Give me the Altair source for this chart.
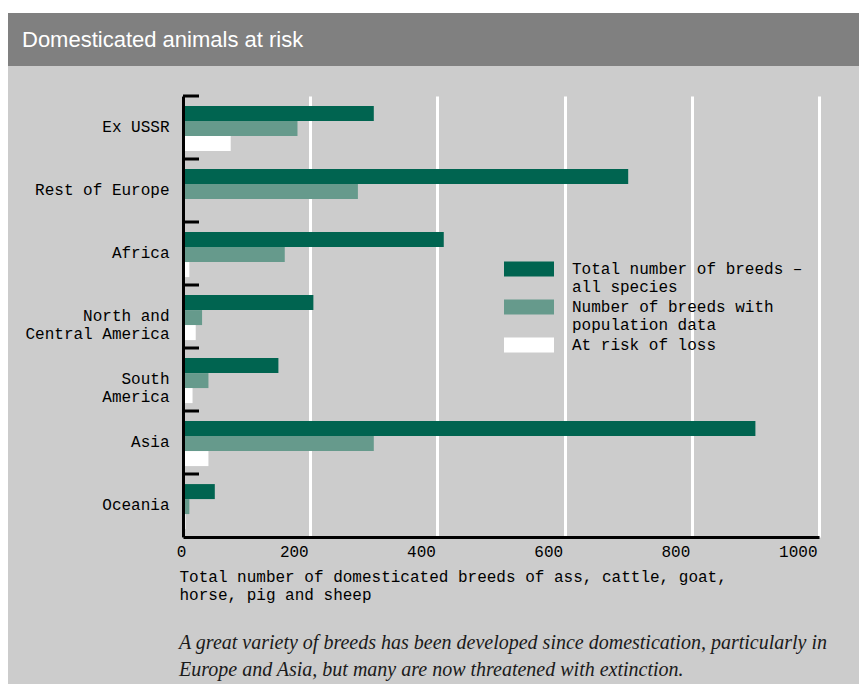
import json
import altair as alt
import pandas as pd

# ---------------- data ----------------
regions = ["Ex USSR", "Rest of Europe", "Africa", "North and Central America",
           "South America", "Asia", "Oceania"]
region_lines = {"North and Central America": ["North and", "Central America"],
                "South America": ["South", "America"]}
total_breeds = [300, 700, 410, 205, 150, 900, 50]
with_population_data = [180, 275, 160, 30, 40, 300, 10]
at_risk = [75, 0, 10, 20, 15, 40, 4]

series = ["Total number of breeds – all species",
          "Number of breeds with population data",
          "At risk of loss"]
series_lines = {"Total number of breeds – all species": ["Total number of breeds –", "all species"],
                "Number of breeds with population data": ["Number of breeds with", "population data"]}
colors = ["#006450", "#669a8c", "#ffffff"]
x_ticks = [0, 200, 400, 600, 800, 1000]

header_text = "Domesticated animals at risk"
x_title = ["Total number of domesticated breeds of ass, cattle, goat,",
           "horse, pig and sheep"]
caption = ["A great variety of breeds has been developed since domestication, particularly in",
           "Europe and Asia, but many are now threatened with extinction."]

# ---------------- tables ----------------
rows = []
for i, r in enumerate(regions):
    for s, vals in zip(series, [total_breeds, with_population_data, at_risk]):
        rows.append({"region": r, "series": s, "value": vals[i]})
df = pd.DataFrame(rows)
df_regions = pd.DataFrame({"region": regions})
df_header = pd.DataFrame({"t": [header_text]})
df_caption = pd.DataFrame({"t": ["\n".join(caption)]})


def label_expr(mapping):
    e = ""
    for k, lines in mapping.items():
        e += f"datum.label === {json.dumps(k)} ? {json.dumps(lines)} : "
    return e + "datum.label"


MONO = "Liberation Mono"
W, H = 636, 441

y_enc = alt.Y("region:N", sort=regions, title=None,
              scale=alt.Scale(paddingInner=0, paddingOuter=0),
              axis=alt.Axis(domainColor="black", domainWidth=3, ticks=False, tickSize=0,
                            labelPadding=14, labelFont=MONO, labelFontSize=16,
                            labelColor="black", labelLineHeight=18, labelBaseline="middle",
                            labelOffset=-1,
                            labelExpr=label_expr(region_lines), zindex=1, grid=False))

bars = alt.Chart(df).mark_bar().encode(
    x=alt.X("value:Q", scale=alt.Scale(domain=[0, 1000], nice=False),
            axis=alt.Axis(values=x_ticks, format="d", grid=True, gridColor="white", gridWidth=3,
                          gridOpacity=1, domainColor="black", domainWidth=3,
                          ticks=False, tickSize=0, labelPadding=6,
                          labelFont=MONO, labelFontSize=16, labelColor="black",
                          labelAlign={"condition": {"test": "datum.value === 0", "value": "center"},
                                      "value": "right"},
                          labelOffset=-2,
                          title=x_title, titleFont=MONO, titleFontSize=16,
                          titleFontWeight="normal", titleColor="black",
                          titleAnchor="start", titleAlign="left", titleBaseline="top",
                          titleX=-4, titleY=31, titleLineHeight=18)),
    y=y_enc,
    yOffset=alt.YOffset("series:N", sort=series,
                        scale=alt.Scale(paddingInner=0, paddingOuter=0.6, align=0.56)),
    color=alt.Color("series:N", sort=series,
                    scale=alt.Scale(domain=series, range=colors),
                    legend=alt.Legend(title=None, orient="none", legendX=336, legendY=163,
                                      symbolType="M-2.5,-0.75H2.5V0.75H-2.5Z", symbolSize=400,
                                      symbolStrokeWidth=0, symbolOpacity=1,
                                      labelFont=MONO, labelFontSize=16, labelColor="black",
                                      labelOffset=33, labelBaseline="middle",
                                      labelExpr=label_expr(series_lines),
                                      labelLimit=400, rowPadding=2, padding=0)),
)

ticks = alt.Chart(df_regions).mark_rule(color="black", strokeWidth=3).encode(
    y=alt.Y("region:N", sort=regions, bandPosition=0),
    x=alt.value(0), x2=alt.value(16),
)

white_strip = alt.Chart(df_header).mark_rect(color="white").encode(
    x=alt.value(-175), x2=alt.value(W + 40), y=alt.value(-88), y2=alt.value(-83))

header = alt.Chart(df_header).mark_rect(color="#808080").encode(
    x=alt.value(-175), x2=alt.value(W + 40), y=alt.value(-83), y2=alt.value(-30))

header_label = alt.Chart(df_header).mark_text(
    align="left", baseline="middle", font="Liberation Sans", fontSize=22, color="white"
).encode(text="t:N", x=alt.value(-161), y=alt.value(-56))

caption_text = alt.Chart(df_caption).mark_text(
    align="left", baseline="alphabetic", font="Liberation Serif", fontStyle="italic",
    fontSize=20, color="#1a1a1a", lineBreak="\n", lineHeight=27
).encode(text="t:N", x=alt.value(-4), y=alt.value(553))

chart = alt.layer(white_strip, header, header_label, bars, ticks, caption_text).properties(
    width=W, height=H,
    autosize=alt.AutoSizeParams(type="none"),
    padding={"left": 175, "top": 88, "right": 40, "bottom": 147},
    background="#cccccc",
).configure_view(stroke=None)

chart.save("out.html", embed_options={"renderer": "svg", "actions": False})
